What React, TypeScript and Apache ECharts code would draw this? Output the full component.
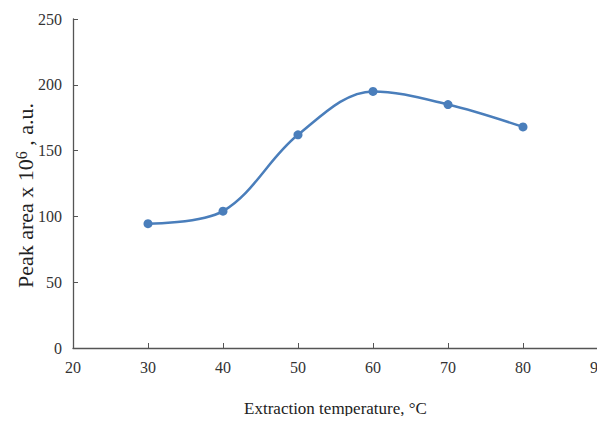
import React, { useEffect, useRef } from "react";
import * as echarts from "echarts";

const temperatures = [30, 40, 50, 60, 70, 80];
const peakAreas = [94.5, 104, 162, 195, 185, 168];

export default function App() {
  const ref = useRef<HTMLDivElement>(null);
  useEffect(() => {
    if (!ref.current) return;
    const chart = echarts.init(ref.current, null, { renderer: "svg" });
    const font = "'Liberation Serif', 'Times New Roman', serif";
    chart.setOption({
      animation: false,
      backgroundColor: "#ffffff",
      grid: { left: 73, right: 7, top: 19, bottom: 76, containLabel: false, outerBoundsMode: "none" },
      xAxis: {
        type: "value",
        min: 20,
        max: 90,
        interval: 10,
        name: "Extraction temperature, °C",
        nameLocation: "middle",
        nameGap: 52,
        nameMoveOverlap: false,
        nameTextStyle: { fontFamily: font, fontSize: 17, color: "#222" },
        axisLine: { lineStyle: { color: "#555", width: 1.3 } },
        axisTick: { inside: true, length: 5, lineStyle: { color: "#555" } },
        axisLabel: { fontFamily: font, fontSize: 16, color: "#333", margin: 11 },
        splitLine: { show: false },
      },
      yAxis: {
        type: "value",
        min: 0,
        max: 250,
        interval: 50,
        name: "Peak area x 10{sup|6} , a.u.",
        nameLocation: "middle",
        nameGap: 35,
        nameMoveOverlap: false,
        nameTextStyle: {
          fontFamily: font,
          fontSize: 22,
          color: "#222",
          padding: [0, 24, 0, 0],
          rich: {
            sup: { fontFamily: font, fontSize: 16, color: "#222", verticalAlign: "top", padding: [0, 0, 9, 0] },
          },
        },
        axisLine: { show: true, lineStyle: { color: "#555", width: 1.3 } },
        axisTick: { show: true, inside: true, length: 5, lineStyle: { color: "#555" } },
        axisLabel: { fontFamily: font, fontSize: 16, color: "#333", margin: 11 },
        splitLine: { show: false },
      },
      series: [
        {
          type: "line",
          data: temperatures.map((t, i) => [t, peakAreas[i]]),
          smooth: 0.35,
          symbol: "circle",
          symbolSize: 9,
          lineStyle: { color: "#4a7ebb", width: 2.5 },
          itemStyle: { color: "#4a7ebb" },
        },
      ],
    });
    return () => chart.dispose();
  }, []);
  return <div ref={ref} style={{ width: 605, height: 424, margin: -8 }} />;
}
